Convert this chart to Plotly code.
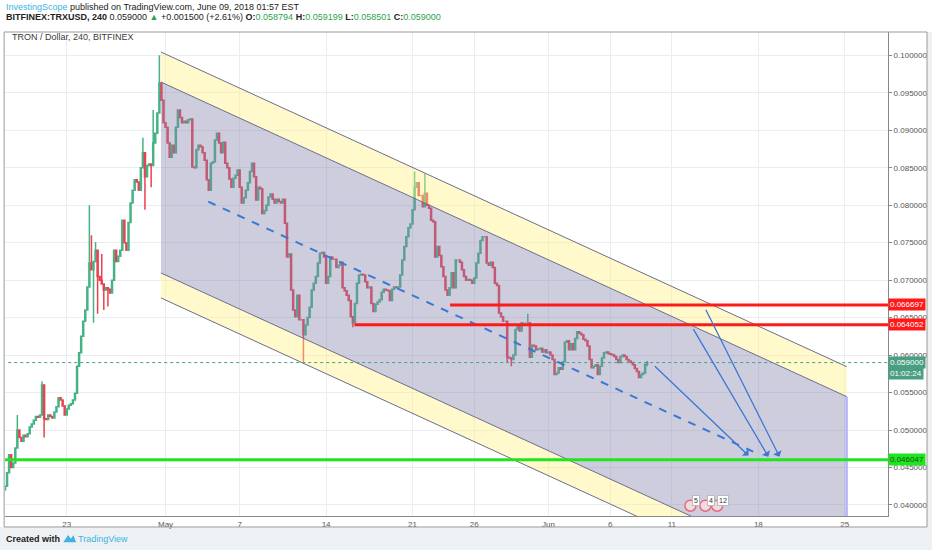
import pandas as pd
import plotly.graph_objects as go

# 4h candles of TRX/USD (closes; open = previous close)
first_open = 0.0420
closes = [
    0.0425, 0.0443, 0.0467, 0.0450, 0.0456, 0.0476, 0.0500, 0.0490, 0.0485, 0.0493,
    0.0491, 0.0495, 0.0504, 0.0508, 0.0513, 0.0518, 0.0517, 0.0520, 0.0560, 0.0515,
    0.0514, 0.0520, 0.0518, 0.0516, 0.0524, 0.0531, 0.0543, 0.0540, 0.0532, 0.0520,
    0.0528, 0.0533, 0.0535, 0.0540, 0.0549, 0.0585, 0.0603, 0.0625, 0.0645, 0.0660,
    0.0691, 0.0723, 0.0714, 0.0725, 0.0740, 0.0705, 0.0700, 0.0695, 0.0687, 0.0690,
    0.0688, 0.0683, 0.0700, 0.0740, 0.0725, 0.0732, 0.0740, 0.0780, 0.0750, 0.0740,
    0.0777, 0.0803, 0.0820, 0.0834, 0.0831, 0.0820, 0.0850, 0.0870, 0.0838, 0.0853,
    0.0855, 0.0853, 0.0883, 0.0896, 0.0923, 0.0963, 0.0940, 0.0910, 0.0904, 0.0883,
    0.0864, 0.0880, 0.0870, 0.0904, 0.0927, 0.0917, 0.0910, 0.0912, 0.0910, 0.0914,
    0.0915, 0.0851, 0.0850, 0.0874, 0.0880, 0.0878, 0.0870, 0.0860, 0.0834, 0.0820,
    0.0856, 0.0858, 0.0887, 0.0896, 0.0883, 0.0870, 0.0884, 0.0856, 0.0850, 0.0835,
    0.0824, 0.0836, 0.0840, 0.0847, 0.0824, 0.0803, 0.0810, 0.0820, 0.0830, 0.0845,
    0.0856, 0.0838, 0.0807, 0.0824, 0.0822, 0.0789, 0.0793, 0.0800, 0.0811, 0.0815,
    0.0808, 0.0803, 0.0808, 0.0805, 0.0803, 0.0808, 0.0776, 0.0731, 0.0735, 0.0687,
    0.0660, 0.0651, 0.0680, 0.0647, 0.0647, 0.0627, 0.0640, 0.0650, 0.0664, 0.0687,
    0.0696, 0.0705, 0.0723, 0.0736, 0.0737, 0.0731, 0.0696, 0.0705, 0.0731, 0.0728,
    0.0728, 0.0717, 0.0720, 0.0724, 0.0690, 0.0686, 0.0680, 0.0673, 0.0651, 0.0643,
    0.0669, 0.0696, 0.0707, 0.0708, 0.0707, 0.0698, 0.0690, 0.0691, 0.0669, 0.0658,
    0.0668, 0.0671, 0.0674, 0.0684, 0.0688, 0.0687, 0.0686, 0.0673, 0.0688, 0.0691,
    0.0690, 0.0691, 0.0707, 0.0727, 0.0745, 0.0758, 0.0770, 0.0775, 0.0794, 0.0824,
    0.0830, 0.0813, 0.0813, 0.0798, 0.0816, 0.0800, 0.0796, 0.0780, 0.0778, 0.0731,
    0.0745, 0.0733, 0.0718, 0.0705, 0.0687, 0.0680, 0.0690, 0.0710, 0.0690, 0.0727,
    0.0727, 0.0724, 0.0714, 0.0705, 0.0700, 0.0701, 0.0700, 0.0696, 0.0703, 0.0723,
    0.0736, 0.0753, 0.0758, 0.0758, 0.0723, 0.0720, 0.0724, 0.0717, 0.0696, 0.0693,
    0.0656, 0.0651, 0.0645, 0.0645, 0.0597, 0.0596, 0.0594, 0.0600, 0.0634, 0.0638,
    0.0632, 0.0643, 0.0643, 0.0643, 0.0643, 0.0597, 0.0613, 0.0612, 0.0607, 0.0608,
    0.0609, 0.0604, 0.0607, 0.0603, 0.0604, 0.0600, 0.0594, 0.0574, 0.0576, 0.0583,
    0.0581, 0.0591, 0.0617, 0.0619, 0.0607, 0.0615, 0.0607, 0.0622, 0.0631, 0.0629,
    0.0627, 0.0621, 0.0619, 0.0612, 0.0594, 0.0583, 0.0585, 0.0587, 0.0574, 0.0585,
    0.0596, 0.0603, 0.0604, 0.0602, 0.0601, 0.0600, 0.0598, 0.0594, 0.0590, 0.0598,
    0.0600, 0.0598, 0.0594, 0.0592, 0.0590, 0.0587, 0.0582, 0.0578, 0.0570, 0.0574,
    0.0576, 0.058794, 0.059000,
]
# visible wicks beyond the candle body (candle index -> price)
wick_high = {6: 0.0520, 18: 0.0565, 41: 0.0800, 42: 0.0760, 44: 0.0751, 47: 0.0735,
             67: 0.0890, 72: 0.0927, 75: 0.1000, 199: 0.0845, 204: 0.0842,
             254: 0.0655, 312: 0.059199}
wick_low = {19: 0.0490, 43: 0.0643, 45: 0.0655, 48: 0.0660, 50: 0.0665, 68: 0.0794,
            71: 0.0824, 145: 0.0591, 169: 0.0637, 244: 0.0590, 246: 0.0585,
            312: 0.058501}

dates = pd.date_range("2018-04-18 00:00", periods=len(closes), freq="4h")
opens = [first_open] + closes[:-1]
highs = [max(o, c, wick_high.get(i, 0)) for i, (o, c) in enumerate(zip(opens, closes))]
lows = [min(o, c, wick_low.get(i, 1)) for i, (o, c) in enumerate(zip(opens, closes))]

# drawings
channel_dates = ["2018-04-30 15:00", "2018-06-25 04:00"]
outer_top = [0.10044, 0.05845]
inner_top = [0.09644, 0.05445]
inner_bot = [0.07096, 0.02897]
outer_bot = [0.06763, 0.02564]

median_dates = ["2018-05-04 11:00", "2018-06-17 14:00"]
median_prices = [0.08047, 0.04712]

arrow_tails = [("2018-06-09 12:00", 0.05869), ("2018-06-12 16:00", 0.06366), ("2018-06-13 16:30", 0.06625)]
arrow_heads = [("2018-06-17 05:00", 0.04659), ("2018-06-18 19:30", 0.04645), ("2018-06-19 17:00", 0.04645)]

red_levels = [0.066697, 0.064052]
red_starts = ["2018-05-24 01:00", "2018-05-16 07:00"]
green_level = 0.046047
last_price = 0.059000

event_dates = ["2018-06-12 12:00", "2018-06-13 17:00", "2018-06-14 16:00"]
event_labels = ["5", "4", "12"]

x_range = ["2018-04-18 00:00", "2018-06-28 12:00"]
y_range = [0.03853, 0.10311]
tick_dates = ["2018-04-23", "2018-05-01", "2018-05-07", "2018-05-14", "2018-05-21", "2018-05-26",
              "2018-06-01", "2018-06-06", "2018-06-11", "2018-06-18", "2018-06-25"]
tick_text = ["23", "May", "7", "14", "21", "26", "Jun", "6", "11", "18", "25"]

FONT = "Liberation Sans, Arial, sans-serif"
GREEN = "#45b386"
RED = "#eb4050"
TEAL = "#4a9e82"
BLUE = "#3a78d4"
EDGE = "#6d6d8c"

fig = go.Figure()

# channel bands
def band(top, bot, color):
    fig.add_trace(go.Scatter(
        x=channel_dates + channel_dates[::-1], y=top + bot[::-1],
        fill="toself", fillcolor=color, mode="lines",
        line=dict(color="rgba(0,0,0,0)", width=0), hoverinfo="skip", showlegend=False))

band(outer_top, inner_top, "rgba(255,240,130,0.42)")
band(inner_top, inner_bot, "rgba(130,130,170,0.40)")
band(inner_bot, outer_bot, "rgba(255,240,130,0.42)")
for line in (outer_top, inner_top, inner_bot, outer_bot):
    fig.add_trace(go.Scatter(x=channel_dates, y=line, mode="lines",
                             line=dict(color=EDGE, width=1), hoverinfo="skip", showlegend=False))
fig.add_trace(go.Scatter(x=[channel_dates[1]] * 2, y=[inner_bot[1], inner_top[1]], mode="lines",
                         line=dict(color="#b3b3ff", width=2), hoverinfo="skip", showlegend=False))

# last price dotted line
fig.add_trace(go.Scatter(x=["2018-04-10", "2018-07-05"], y=[last_price] * 2, mode="lines",
                         line=dict(color=TEAL, width=1, dash="dot"), hoverinfo="skip", showlegend=False))

# candles
fig.add_trace(go.Candlestick(
    x=dates, open=opens, high=highs, low=lows, close=closes,
    increasing=dict(line=dict(color=GREEN, width=1.5), fillcolor=GREEN),
    decreasing=dict(line=dict(color=RED, width=1.5), fillcolor=RED),
    whiskerwidth=0, showlegend=False))

# median dashed line
fig.add_trace(go.Scatter(x=median_dates, y=median_prices, mode="lines",
                         line=dict(color=BLUE, width=2, dash="8px,8px"), hoverinfo="skip", showlegend=False))

# horizontal levels
for lvl, start in zip(red_levels, red_starts):
    fig.add_trace(go.Scatter(x=[start, "2018-07-05"], y=[lvl, lvl], mode="lines",
                             line=dict(color="#ff1a1a", width=3), hoverinfo="skip", showlegend=False))
fig.add_trace(go.Scatter(x=["2018-04-10", "2018-07-05"], y=[green_level] * 2, mode="lines",
                         line=dict(color="#1ee61e", width=3), hoverinfo="skip", showlegend=False))

# event markers near the bottom
fig.add_trace(go.Scatter(x=event_dates, y=[0.03990] * 3, mode="markers",
                         marker=dict(size=11, color="#f3d9e0", line=dict(color="#e86a7a", width=1.5)),
                         hoverinfo="skip", showlegend=False))

# forecast arrows
for (tx, ty), (hx, hy) in zip(arrow_tails, arrow_heads):
    fig.add_annotation(x=hx, y=hy, ax=tx, ay=ty, xref="x", yref="y", axref="x", ayref="y",
                       showarrow=True, arrowhead=1, arrowsize=1.2, arrowwidth=1.3,
                       arrowcolor=BLUE, text="")

for d, lab in zip(event_dates, event_labels):
    fig.add_annotation(x=d, y=0.04055, text=lab, showarrow=False, xshift=6,
                       font=dict(family=FONT, size=7, color="#333"),
                       bgcolor="white", bordercolor="#bbb", borderwidth=1, borderpad=1)

# price labels on the right axis
def price_tag(y, text, bg, fg="white", yshift=0):
    fig.add_annotation(x=1.0, xref="paper", y=y, yref="y", text=text, showarrow=False,
                       xanchor="left", yshift=yshift, font=dict(family=FONT, size=8, color=fg),
                       bgcolor=bg, borderpad=1)

price_tag(red_levels[0], "0.066697", "#ff1a1a")
price_tag(red_levels[1], "0.064052", "#ff1a1a")
price_tag(last_price, "0.059000", TEAL)
price_tag(last_price, "01:02:24", TEAL, yshift=-11)
price_tag(green_level, "0.046047", "#1ee61e", fg="#1b4d1b")

# header, title and footer text
fig.add_annotation(x=-0.001, y=1.052, xref="paper", yref="paper", xanchor="left", yanchor="middle",
                   showarrow=False, font=dict(family=FONT, size=9, color="#222"),
                   text="<span style='color:#3bb3e4'>InvestingScope</span> published on TradingView.com, June 09, 2018 01:57 EST")
fig.add_annotation(x=-0.001, y=1.030, xref="paper", yref="paper", xanchor="left", yanchor="middle",
                   showarrow=False, font=dict(family=FONT, size=9, color="#222"),
                   text="<b>BITFINEX:TRXUSD, 240</b> 0.059000 <span style='color:#2ea34d'>▲</span> +0.001500 (+2.61%) "
                        "<b>O:</b><span style='color:#2ea34d'>0.058794</span> <b>H:</b><span style='color:#2ea34d'>0.059199</span> "
                        "<b>L:</b><span style='color:#2ea34d'>0.058501</span> <b>C:</b><span style='color:#2ea34d'>0.059000</span>")
fig.add_annotation(x=0.006, y=0.99, xref="paper", yref="paper", xanchor="left", yanchor="middle",
                   showarrow=False, font=dict(family=FONT, size=9, color="#3a3a3a"),
                   text="TRON / Dollar, 240, BITFINEX")
fig.add_annotation(x=-0.001, y=-0.047, xref="paper", yref="paper", xanchor="left", yanchor="middle",
                   showarrow=False, font=dict(family=FONT, size=9, color="#222"),
                   text="<b>Created with</b>")
fig.add_annotation(x=0.08, y=-0.047, xref="paper", yref="paper", xanchor="left", yanchor="middle",
                   showarrow=False, font=dict(family=FONT, size=9, color="#3bb3e4"),
                   text="TradingView")

shapes = [
    # footer background and right strip
    dict(type="rect", xref="paper", yref="paper", x0=-0.006, x1=1.05, y0=-0.071, y1=-0.0227,
         fillcolor="#eef1f4", line=dict(width=0), layer="below"),
    dict(type="rect", xref="paper", yref="paper", x0=1.0442, x1=1.05, y0=-0.0227, y1=1.0,
         fillcolor="#eef1f4", line=dict(width=0), layer="below"),
    # outer frame
    dict(type="rect", xref="paper", yref="paper", x0=-0.001, x1=1.0442, y0=-0.0227, y1=1.0,
         line=dict(color="#9a9a9a", width=1)),
    # small TradingView logo
    dict(type="path", xref="paper", yref="paper",
         path="M 0.066 -0.054 L 0.0715 -0.039 L 0.0745 -0.047 L 0.0775 -0.040 L 0.0805 -0.054 Z",
         fillcolor="#3bb3e4", line=dict(width=0)),
]

fig.update_layout(
    width=932, height=550,
    margin=dict(l=5, r=44, t=32, b=34),
    paper_bgcolor="white", plot_bgcolor="white",
    font=dict(family=FONT, size=8, color="#555"),
    shapes=shapes,
    hovermode=False,
    xaxis=dict(range=x_range, tickvals=tick_dates, ticktext=tick_text, rangeslider=dict(visible=False),
               showgrid=True, gridcolor="#eaeef2", gridwidth=1, showline=True, linecolor="#888",
               ticks="", tickfont=dict(size=8, color="#555"), zeroline=False),
    yaxis=dict(range=y_range, side="right", dtick=0.005, tick0=0.04, tickformat=".6f",
               showgrid=True, gridcolor="#eaeef2", gridwidth=1, showline=True, linecolor="#888",
               ticks="outside", ticklen=3, tickcolor="#888", tickfont=dict(size=8, color="#555"),
               zeroline=False),
)

# remove the page's default body margin so the 932x550 figure fills the window
fig.write_html("out.html", config={"displayModeBar": False},
               post_script="document.body.style.margin='0';document.body.style.overflow='hidden';")
